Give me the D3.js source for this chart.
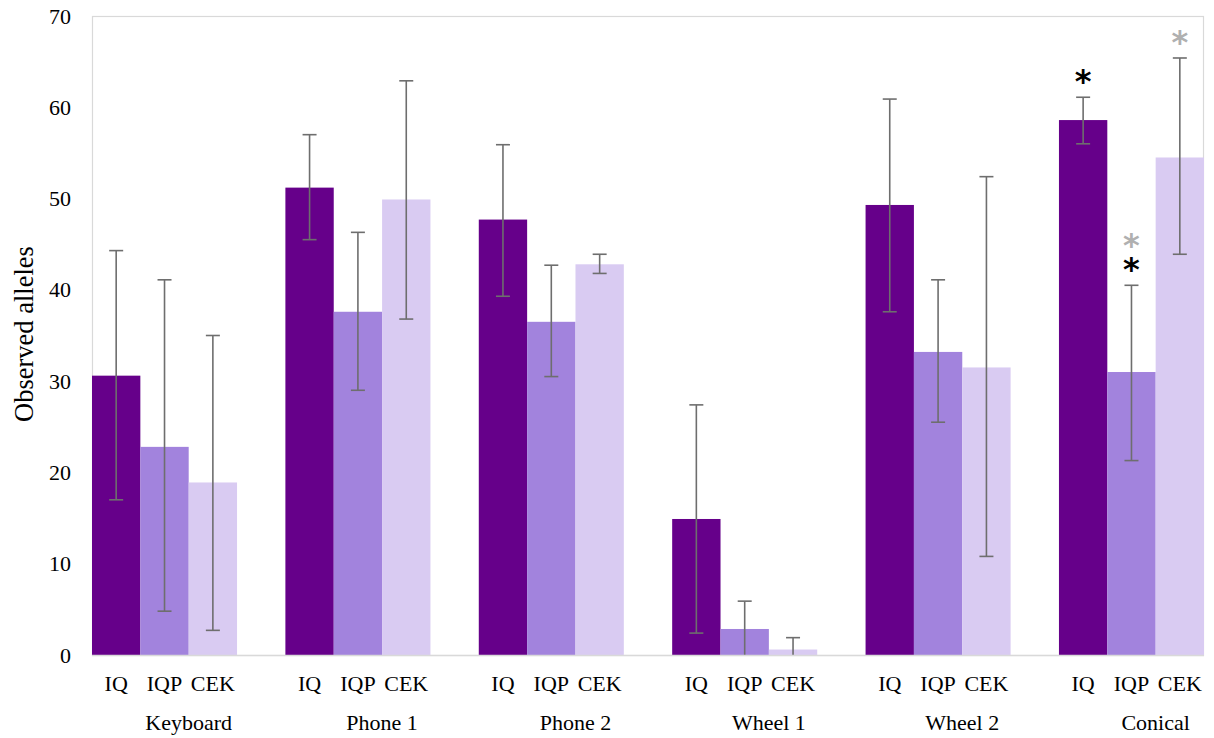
<!DOCTYPE html>
<html>
<head>
<meta charset="utf-8">
<script src="https://cdn.jsdelivr.net/npm/d3@7/dist/d3.min.js"></script>
<style>
  html, body { margin: 0; padding: 0; background: #fff; }
  svg { display: block; }
  text { font-family: "Liberation Serif", "Times New Roman", serif; }
</style>
</head>
<body>
<svg id="chart" width="1214" height="738"></svg>
<script>
// ---- data ----
const groups = ["Keyboard", "Phone 1", "Phone 2", "Wheel 1", "Wheel 2", "Conical"];
const series = ["IQ", "IQP", "CEK"];
const seriesColors = ["#66008a", "#a283dd", "#d9cbf2"];
const yTicks = [0, 10, 20, 30, 40, 50, 60, 70];

// means per series, in group order
const valuesIQ  = [30.6, 51.2, 47.7, 14.9, 49.3, 58.6];
const valuesIQP = [22.8, 37.6, 36.5, 2.85, 33.2, 31.0];
const valuesCEK = [18.9, 49.9, 42.8, 0.6, 31.5, 54.5];

// error bar upper / lower ends
const upperIQ  = [44.3, 57.0, 55.9, 27.4, 60.9, 61.1];
const lowerIQ  = [17.0, 45.5, 39.3, 2.4, 37.6, 56.0];
const upperIQP = [41.1, 46.3, 42.7, 5.9, 41.1, 40.5];
const lowerIQP = [4.8, 29.0, 30.5, 0, 25.5, 21.3];
const upperCEK = [35.0, 62.9, 43.9, 1.9, 52.4, 65.4];
const lowerCEK = [2.7, 36.8, 41.8, 0, 10.8, 43.9];

// significance asterisks: group, series, colours stacked upward
const sigGroup  = ["Conical", "Conical", "Conical"];
const sigSeries = ["IQ", "IQP", "CEK"];
const sigMarks  = [["#000000"], ["#000000", "#b0b0b0"], ["#b0b0b0"]];

const yLabel = "Observed alleles";

// ---- build table ----
const vals = { IQ: valuesIQ, IQP: valuesIQP, CEK: valuesCEK };
const ups  = { IQ: upperIQ,  IQP: upperIQP,  CEK: upperCEK };
const lows = { IQ: lowerIQ,  IQP: lowerIQP,  CEK: lowerCEK };
const rows = [];
groups.forEach((g, gi) => series.forEach((s, si) => rows.push({
  group: g, series: s, value: vals[s][gi], up: ups[s][gi], low: lows[s][gi], color: seriesColors[si]
})));

// ---- layout ----
const mLeft = 92, mRight = 1204, mTop = 16, mBottom = 655;
const svg = d3.select("#chart");

const x0 = d3.scaleBand().domain(groups).range([mLeft, mRight]).paddingInner(0.25).paddingOuter(0).align(0);
const x1 = d3.scaleBand().domain(series).range([0, x0.bandwidth()]).padding(0);
const y = d3.scaleLinear().domain([0, 70]).range([mBottom, mTop]);

// frame
svg.append("rect")
  .attr("x", mLeft + 0.5).attr("y", mTop + 0.5)
  .attr("width", mRight - mLeft - 1).attr("height", mBottom - mTop)
  .attr("fill", "none").attr("stroke", "#d9d9d9").attr("stroke-width", 1.2);

// y axis labels
const yAxis = d3.axisLeft(y).tickValues(yTicks).tickSize(0).tickPadding(21);
const gy = svg.append("g").attr("transform", `translate(${mLeft},0)`).call(yAxis);
gy.select(".domain").remove();
gy.selectAll("text")
  .style("font-family", '"Liberation Serif", serif')
  .style("font-size", "22px").style("fill", "#000");

// bars
const bars = svg.append("g");
bars.selectAll("rect").data(rows).join("rect")
  .attr("x", d => x0(d.group) + x1(d.series))
  .attr("width", x1.bandwidth())
  .attr("y", d => y(d.value))
  .attr("height", d => y(0) - y(d.value))
  .attr("fill", d => d.color);

// error bars
const eb = svg.append("g").attr("stroke", "#6e6e6e").attr("stroke-width", 1.6);
const cx = d => x0(d.group) + x1(d.series) + x1.bandwidth() / 2;
eb.selectAll("line.v").data(rows).join("line").attr("class", "v")
  .attr("x1", cx).attr("x2", cx)
  .attr("y1", d => y(d.up)).attr("y2", d => y(Math.max(0, d.low)));
eb.selectAll("line.t").data(rows).join("line").attr("class", "t")
  .attr("x1", d => cx(d) - 7).attr("x2", d => cx(d) + 7)
  .attr("y1", d => y(d.up)).attr("y2", d => y(d.up));
eb.selectAll("line.b").data(rows.filter(d => d.low > 0)).join("line").attr("class", "b")
  .attr("x1", d => cx(d) - 7).attr("x2", d => cx(d) + 7)
  .attr("y1", d => y(d.low)).attr("y2", d => y(d.low));

// baseline
svg.append("line").attr("x1", mLeft).attr("x2", mRight)
  .attr("y1", mBottom + 0.5).attr("y2", mBottom + 0.5)
  .attr("stroke", "#d9d9d9").attr("stroke-width", 1.5);

// significance asterisks (one text per bar, stacked tspans)
const sig = svg.append("g");
sigGroup.forEach((g, i) => {
  const d = rows.find(r => r.group === g && r.series === sigSeries[i]);
  const t = sig.append("text")
    .attr("x", cx(d))
    .attr("y", y(d.up) - 5)
    .attr("text-anchor", "middle")
    .style("font-family", '"DejaVu Sans", sans-serif')
    .style("font-weight", "bold")
    .style("font-size", "32px");
  sigMarks[i].forEach((c, k) => {
    t.append("tspan")
      .attr("x", cx(d))
      .attr("dy", k === 0 ? 0 : -24)
      .style("fill", c)
      .text("*");
  });
});

// series tick labels
const xl = svg.append("g");
rows.forEach(d => {
  xl.append("text")
    .attr("x", cx(d)).attr("y", 691)
    .attr("text-anchor", "middle")
    .style("font-size", "22px").style("fill", "#000")
    .text(d.series);
});
// group labels
groups.forEach(g => {
  xl.append("text")
    .attr("x", x0(g) + x0.step() / 2).attr("y", 730)
    .attr("text-anchor", "middle")
    .style("font-size", "22px").style("fill", "#000")
    .text(g);
});

// y axis title
svg.append("text")
  .attr("transform", `translate(33,334) rotate(-90)`)
  .attr("text-anchor", "middle")
  .style("font-size", "26.5px").style("fill", "#000")
  .text(yLabel);
</script>
</body>
</html>
